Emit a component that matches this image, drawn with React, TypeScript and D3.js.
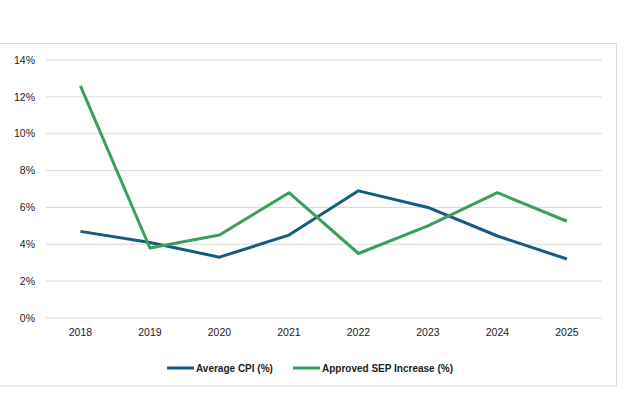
import React from "react";
import * as d3 from "d3";

const years = ["2018", "2019", "2020", "2021", "2022", "2023", "2024", "2025"];
const avgCpi = [4.7, 4.1, 3.3, 4.5, 6.9, 6.0, 4.45, 3.2];
const sepIncrease = [12.6, 3.8, 4.5, 6.8, 3.5, 5.0, 6.8, 5.25];
const yTicks = [0, 2, 4, 6, 8, 10, 12, 14];
const seriesNames = ["Average CPI (%)", "Approved SEP Increase (%)"];
const colors = ["#165a82", "#3a9e5c"];

export default function App() {
  const W = 627, H = 396;
  const x = d3.scaleBand<string>().domain(years).range([45.7, 601.7]).padding(0);
  const y = d3.scaleLinear().domain([0, 14]).range([318, 60]);
  const cx = (d: string) => (x(d) as number) + x.bandwidth() / 2;
  const line = d3.line<number>().x((_, i) => cx(years[i])).y((v) => y(v));
  const series = [avgCpi, sepIncrease];
  const font = "'Liberation Sans', Arial, sans-serif";
  const legendX = [167, 293];
  return (
    <svg width={W} height={H} style={{ position: "absolute", left: 0, top: 0 }}>
      <rect x={0} y={0} width={W} height={H} fill="#fff" />
      <rect x={-2} y={43.5} width={618.5} height={342.5} fill="none" stroke="#d9d9d9" strokeWidth={1} />
      {yTicks.map((t) => (
        <g key={t}>
          <line x1={45.7} x2={601.7} y1={y(t)} y2={y(t)} stroke="#d9d9d9" strokeWidth={1} />
          <text x={35} y={y(t)} dy="0.35em" textAnchor="end" fontFamily={font} fontSize={10.5} fill="#222">
            {t}%
          </text>
        </g>
      ))}
      {years.map((yr) => (
        <text key={yr} x={cx(yr)} y={332} dy="0.35em" textAnchor="middle" fontFamily={font} fontSize={10.5} fill="#222">
          {yr}
        </text>
      ))}
      {series.map((s, i) => (
        <path key={i} d={line(s) || ""} fill="none" stroke={colors[i]} strokeWidth={3} strokeLinejoin="round" />
      ))}
      {seriesNames.map((n, i) => (
        <g key={n}>
          <line x1={legendX[i]} x2={legendX[i] + 27} y1={368} y2={368} stroke={colors[i]} strokeWidth={3} />
          <text x={legendX[i] + 29} y={368} dy="0.35em" fontFamily={font} fontSize={10} fontWeight="bold" fill="#222">
            {n}
          </text>
        </g>
      ))}
    </svg>
  );
}
